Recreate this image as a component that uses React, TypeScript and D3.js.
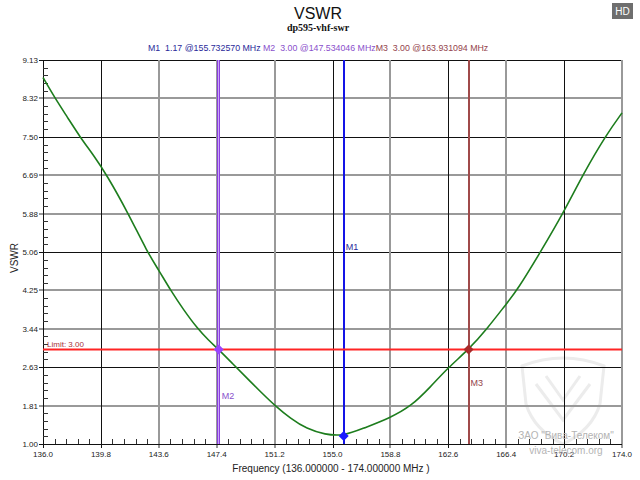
import React from "react";
import * as d3 from "d3";

// Measured sweep: frequency (MHz) and VSWR
const freqMHz = [
  136.0, 136.79, 137.6, 138.43, 139.3, 140.2, 141.6, 142.85, 143.6, 144.38, 145.25,
  146.15, 146.85, 147.534, 148.45, 149.37, 150.3, 151.23, 152.25, 153.31, 154.5,
  155.733, 157.0, 158.77, 160.2, 161.4, 162.6, 163.931, 165.12, 166.39, 167.13,
  168.66, 170.15, 171.46, 172.95, 174.0,
];
const vswr = [
  8.76, 8.32, 7.92, 7.5, 7.12, 6.69, 5.88, 5.06, 4.68, 4.25, 3.83,
  3.44, 3.2, 3.0, 2.7, 2.4, 2.1, 1.81, 1.54, 1.32, 1.2,
  1.17, 1.33, 1.55, 1.81, 2.2, 2.62, 3.0, 3.43, 3.96, 4.26,
  5.07, 5.89, 6.72, 7.54, 8.01,
];

// Axis ticks
const xTicks = [136.0, 139.8, 143.6, 147.4, 151.2, 155.0, 158.8, 162.6, 166.4, 170.2, 174.0];
const yTicks = [1.0, 1.81, 2.63, 3.44, 4.25, 5.06, 5.88, 6.69, 7.5, 8.32, 9.13];

// Markers
const markerNames = ["M1", "M2", "M3"];
const markerFreq = [155.73257, 147.534046, 163.931094];
const markerValue = [1.17, 3.0, 3.0];
const limitValue = 3.0;

// Styling
const GRID_DARK_X = [136.0, 139.8, 155.0, 162.6, 170.2];
const GRID_DARK_Y = [1.0, 2.63, 5.06, 7.5, 9.13];
const markerLine = ["#1414e6", "#8a3fe0", "#a04a4a"];
const markerDot = ["#1a1aff", "#9a44ff", "#a82a2a"];
const markerText = ["#2a2a9a", "#8a50cc", "#94444c"];
const FONT = "'Liberation Sans', Arial, sans-serif";

const W = 640;
const H = 480;
const L = 43;
const R = 622;
const T = 60;
const B = 444;

export default function App() {
  const x = d3.scaleLinear().domain([136, 174]).range([L, R]);
  const y = d3.scaleLinear().domain([1.0, 9.13]).range([B, T]);

  const pts: [number, number][] = freqMHz.map((f, i) => [f, vswr[i]]);
  const line = d3
    .line<[number, number]>()
    .x((d) => x(d[0]))
    .y((d) => y(d[1]))
    .curve(d3.curveBasis);

  const crisp = (v: number) => Math.round(v) + 0.5;
  const isDark = (arr: number[], v: number) => arr.some((a) => Math.abs(a - v) < 1e-6);

  // Minor ticks: 5 subdivisions between majors
  const minorX: number[] = [];
  for (let i = 0; i < xTicks.length - 1; i++) {
    for (let k = 1; k < 5; k++) minorX.push(xTicks[i] + ((xTicks[i + 1] - xTicks[i]) * k) / 5);
  }
  const minorY: number[] = [];
  for (let i = 0; i < yTicks.length - 1; i++) {
    for (let k = 1; k < 5; k++) minorY.push(yTicks[i] + ((yTicks[i + 1] - yTicks[i]) * k) / 5);
  }

  const diamond = (cx: number, cy: number, r: number) =>
    `M${cx},${cy - r}L${cx + r},${cy}L${cx},${cy + r}L${cx - r},${cy}Z`;

  const headerParts = markerNames.map(
    (n, i) => `${n}  ${markerValue[i].toFixed(2)} @${markerFreq[i].toFixed(6)} MHz`
  );

  return (
    <svg
      width={W}
      height={H}
      style={{ position: "absolute", left: 0, top: 0, background: "#fff" }}
      fontFamily={FONT}
    >
      <rect x={0} y={0} width={W} height={H} fill="#fff" />

      {/* faint watermark shield */}
      <g fill="none" stroke="#ececec" strokeWidth={3}>
        <path d="M522,366 Q563,350 604,366 L600,404 Q592,430 563,444 Q534,430 526,404 Z" />
        <path d="M536,384 L563,420 L590,384" />
        <path d="M546,376 L563,400 L580,376" />
      </g>

      {/* titles */}
      <text x={318} y={19} textAnchor="middle" fontSize={16} fill="#111">
        VSWR
      </text>
      <text
        x={318}
        y={31}
        textAnchor="middle"
        fontSize={10}
        fontWeight="bold"
        fontFamily="'Liberation Serif', 'Times New Roman', serif"
        fill="#111"
      >
        dp595-vhf-swr
      </text>

      {/* marker readout */}
      <text x={148} y={51} fontSize={8.8} style={{ whiteSpace: "pre" }}>
        <tspan fill={markerText[0]}>{headerParts[0] + " "}</tspan>
        <tspan fill={markerText[1]}>{headerParts[1]}</tspan>
        <tspan fill={markerText[2]}>{headerParts[2]}</tspan>
      </text>

      {/* HD badge */}
      <rect x={612} y={3} width={21} height={16} fill="#6e6e6e" />
      <text x={622.5} y={15} textAnchor="middle" fontSize={10} fill="#fff">
        HD
      </text>

      {/* grid */}
      {yTicks.map((v) => {
        const dark = isDark(GRID_DARK_Y, v);
        const yy = dark ? crisp(y(v)) : Math.round(y(v));
        return (
          <line
            key={`gy${v}`}
            x1={L - 4}
            x2={R}
            y1={yy}
            y2={yy}
            stroke={dark ? "#111" : "#999"}
            strokeWidth={dark ? 1 : 2}
          />
        );
      })}
      {xTicks.map((v) => {
        const dark = isDark(GRID_DARK_X, v);
        const xx = dark ? crisp(x(v)) : Math.round(x(v));
        return (
          <line
            key={`gx${v}`}
            x1={xx}
            x2={xx}
            y1={T}
            y2={B + 4}
            stroke={dark ? "#111" : "#999"}
            strokeWidth={dark ? 1 : 2}
          />
        );
      })}

      {/* axes */}
      <line x1={crisp(L)} x2={crisp(L)} y1={T} y2={B + 4} stroke="#111" />
      <line x1={L - 4} x2={R} y1={crisp(B)} y2={crisp(B)} stroke="#111" />
      {minorY.map((v, i) => (
        <line key={`my${i}`} x1={L} x2={L + 5} y1={crisp(y(v))} y2={crisp(y(v))} stroke="#333" />
      ))}
      {minorX.map((v, i) => (
        <line key={`mx${i}`} x1={crisp(x(v))} x2={crisp(x(v))} y1={B} y2={B - 5} stroke="#333" />
      ))}

      {/* tick labels */}
      {yTicks.map((v) => (
        <text key={`ty${v}`} x={38} y={y(v) + 3} textAnchor="end" fontSize={8} fill="#222">
          {v.toFixed(2)}
        </text>
      ))}
      {xTicks.map((v) => (
        <text key={`tx${v}`} x={x(v)} y={457} textAnchor="middle" fontSize={8} fill="#222">
          {v.toFixed(1)}
        </text>
      ))}

      {/* axis titles */}
      <text
        transform={`translate(18,258) rotate(-90)`}
        textAnchor="middle"
        fontSize={10}
        fill="#222"
      >
        VSWR
      </text>
      <text x={331} y={472} textAnchor="middle" fontSize={10} fill="#222">
        Frequency (136.000000 - 174.000000 MHz )
      </text>

      {/* watermark text */}
      <g textAnchor="middle" fontSize={10} fill="#b4b4b4">
        <text x={566} y={439}>ЗАО "Вива-Телеком"</text>
        <text x={566} y={454}>viva-telecom.org</text>
      </g>

      {/* marker lines */}
      {markerFreq.map((f, i) => {
        const xx = Math.round(x(f));
        return i === 1 ? (
          <g key={`ml${i}`}>
            <rect x={xx - 1} y={T} width={1} height={B - T} fill="#c9a8f4" />
            <line x1={xx - 1.5} x2={xx - 1.5} y1={T} y2={B} stroke={markerLine[i]} strokeWidth={1} />
            <line x1={xx + 0.5} x2={xx + 0.5} y1={T} y2={B} stroke={markerLine[i]} strokeWidth={1} />
          </g>
        ) : (
          <line key={`ml${i}`} x1={xx} x2={xx} y1={T} y2={B} stroke={markerLine[i]} strokeWidth={2} />
        );
      })}

      {/* limit line */}
      <line x1={L} x2={R} y1={y(limitValue)} y2={y(limitValue)} stroke="#ff2424" strokeWidth={2} />
      <text x={47} y={y(limitValue) - 3} fontSize={8} fill="#a8303a">
        Limit: 3.00
      </text>

      {/* trace */}
      <path d={line(pts) || ""} fill="none" stroke="#1d7d1d" strokeWidth={1.6} />

      {/* marker points and names */}
      {markerFreq.map((f, i) => (
        <path key={`md${i}`} d={diamond(x(f), y(markerValue[i]), 5)} fill={markerDot[i]} />
      ))}
      <text x={x(markerFreq[0]) + 2} y={250} fontSize={9} fill={markerText[0]}>
        {markerNames[0]}
      </text>
      <text x={x(markerFreq[1]) + 3} y={399} fontSize={9} fill={markerText[1]}>
        {markerNames[1]}
      </text>
      <text x={x(markerFreq[2]) + 2} y={386} fontSize={9} fill={markerText[2]}>
        {markerNames[2]}
      </text>
    </svg>
  );
}
